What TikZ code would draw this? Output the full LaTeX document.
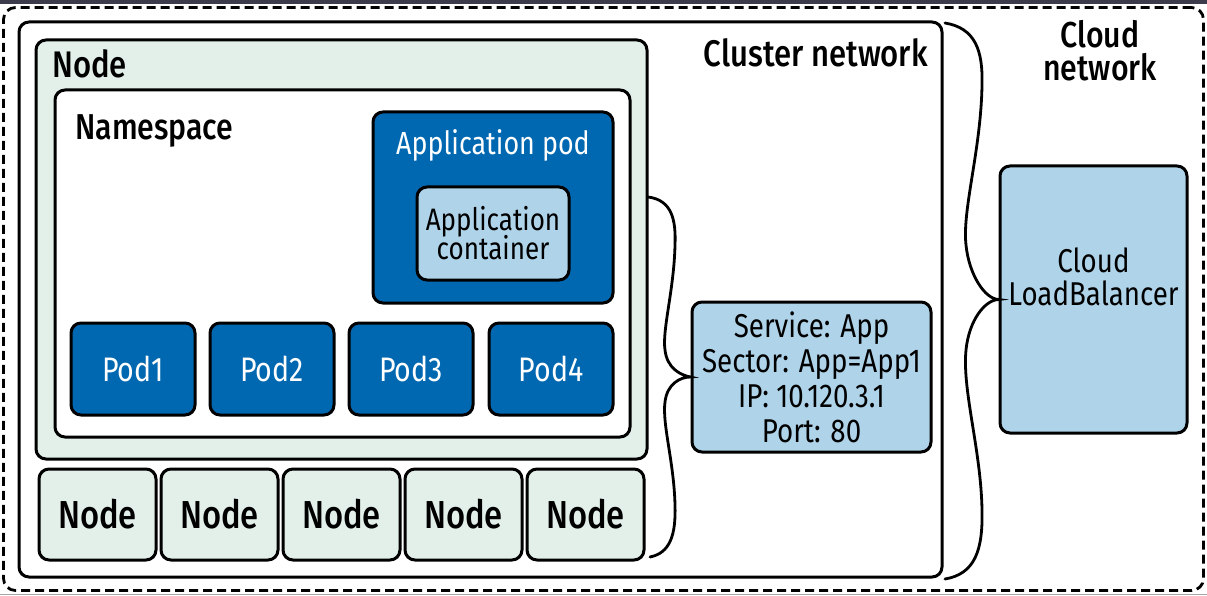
\documentclass[tikz,border=0pt]{standalone}
\usepackage{fontspec}
\setmainfont{Fira Sans}[FakeStretch=0.84,BoldFont={Fira Sans Medium}]
\definecolor{podblue}{HTML}{0068B1}
\definecolor{lightblue}{HTML}{AFD4EA}
\definecolor{nodegreen}{HTML}{E2F0E9}
\definecolor{topbar}{HTML}{3B3B4B}
\begin{document}
\begin{tikzpicture}[x=1pt,y=-1pt,
  box/.style={draw=black, line width=3pt, rounded corners=10pt, inner sep=0pt},
  greenbox/.style={box, fill=nodegreen},
  bluebox/.style={box, fill=podblue, text=white},
  lbbox/.style={box, fill=lightblue},
  podtxt/.style={font=\fontsize{34}{36}\selectfont},
  brace/.style={draw=black, line width=2.8pt, line cap=round},
  lbl/.style={inner sep=0pt, anchor=base west}]
\useasboundingbox (0,0) rectangle (1207,596);
\fill[topbar] (0,0) rectangle (1207,4.5);
\fill[gray!70] (0,593.5) rectangle (1207,595);
% outer cloud network
\node[draw=black, line width=2.8pt, dash pattern=on 9pt off 5pt, rounded corners=12pt, minimum width=1200pt, minimum height=583pt] (cloud) at (603.5,299) {};
% cluster network
\node[box, minimum width=923pt, minimum height=555pt] (cluster) at (480.5,299.5) {};
% big node
\node[greenbox, minimum width=611pt, minimum height=419pt] (bignode) at (341.5,249.5) {};
% namespace
\node[box, fill=white, minimum width=575pt, minimum height=347pt] (ns) at (342.5,263.5) {};
% application pod
\node[bluebox, minimum width=240pt, minimum height=191pt] (apppod) at (493,207.5) {};
\node[lbbox, minimum width=152pt, minimum height=93pt, align=center, font=\fontsize{31}{31}\selectfont] (appcont) at (493,233.5) {Application\\[-2pt]container};
% pods
\foreach \i/\x in {1/133,2/272,3/411,4/551}{
  \node[bluebox, podtxt, minimum width=124pt, minimum height=92pt] (pod\i) at (\x,369) {Pod\i};
}
% small nodes
\foreach \i/\x in {1/97.5,2/219.5,3/341.5,4/463.5,5/585.5}{
  \node[greenbox, font=\bfseries\fontsize{39}{40}\selectfont, minimum width=117pt, minimum height=91pt] (node\i) at (\x,514.5) {Node};
}
% service
\node[lbbox, minimum width=239pt, minimum height=150pt, align=center, font=\fontsize{33}{35}\selectfont] (svc) at (811.5,377) {Service: App\\Sector: App=App1\\IP: 10.120.3.1\\Port: 80};
% load balancer
\node[lbbox, minimum width=187pt, minimum height=267pt] (lb) at (1093.5,299.5) {};
\node[align=center, font=\fontsize{33}{33}\selectfont, inner sep=0pt] (lbtxt) at (1093.5,277) {Cloud\\LoadBalancer};
% labels
\node[lbl, font=\bfseries\fontsize{37}{37}\selectfont] (nodelbl) at (52,78) {Node};
\node[lbl, font=\bfseries\fontsize{36}{36}\selectfont] (nslbl) at (75,140) {Namespace};
\node[inner sep=0pt, anchor=base, text=white, font=\fontsize{32}{32}\selectfont] (apppodlbl) at (493,155) {Application pod};
\node[inner sep=0pt, anchor=base east, font=\bfseries\fontsize{37}{37}\selectfont] (clusterlbl) at (928,67) {Cluster network};
\node[inner sep=0pt, anchor=base, font=\bfseries\fontsize{36}{36}\selectfont] (cloudlbl1) at (1100,48) {Cloud};
\node[inner sep=0pt, anchor=base, font=\bfseries\fontsize{36}{36}\selectfont] (cloudlbl2) at (1100,81) {network};
% brace 1: cluster nodes -> service
\coordinate (b1top) at (648,197);
\coordinate (b1bot) at (650,557);
\draw[brace] (b1top) .. controls (672,200) and (676,220) .. (675,245)
  .. controls (674,290) and (662,330) .. (665,350)
  .. controls (667,368) and (680,375) .. (svc.west)
  .. controls (680,377) and (667,384) .. (665,402)
  .. controls (662,424) and (674,462) .. (675,505)
  .. controls (676,535) and (670,553) .. (b1bot);
% brace 2: cluster network -> load balancer
\coordinate (b2top) at (945,23);
\coordinate (b2bot) at (945,579);
\draw[brace] (b2top) .. controls (975,28) and (983,50) .. (982,85)
  .. controls (981,150) and (962,210) .. (966,245)
  .. controls (969,275) and (985,299) .. (lb.west)
  .. controls (985,300) and (969,320) .. (966,350)
  .. controls (962,390) and (981,450) .. (982,510)
  .. controls (983,550) and (975,574) .. (b2bot);
\end{tikzpicture}
\end{document}
